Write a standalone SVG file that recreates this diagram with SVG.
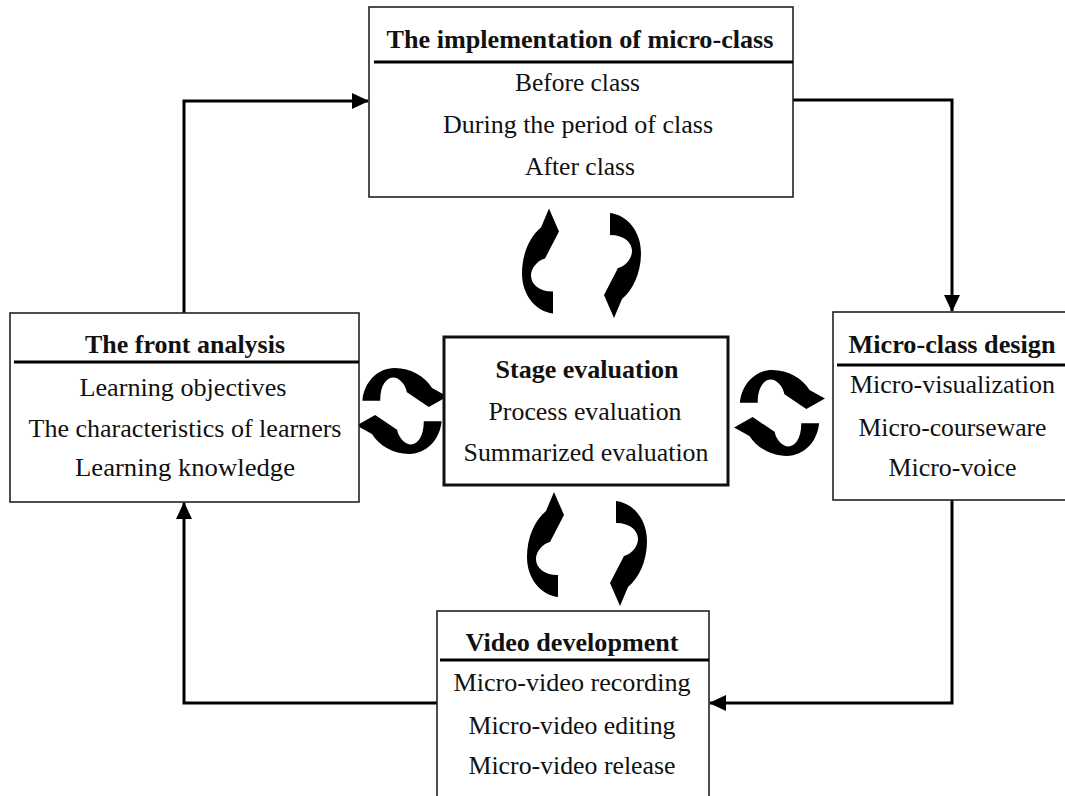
<svg xmlns="http://www.w3.org/2000/svg" width="1065" height="796" viewBox="0 0 1065 796">
  <defs>
    <style>
      .box { fill: #fff; stroke: #222; stroke-width: 1.6; }
      .cbox { fill: #fff; stroke: #111; stroke-width: 3; }
      .hdr { stroke: #000; stroke-width: 3; }
      .conn { fill: none; stroke: #000; stroke-width: 3; }
      .t { font-family: "Liberation Serif", "Times New Roman", serif; font-size: 26px; fill: #111; text-anchor: middle; }
      .b { font-weight: bold; }
      .curv { fill: #000; }
    </style>
    <marker id="ah" markerUnits="userSpaceOnUse" markerWidth="17" markerHeight="16" refX="16" refY="8" orient="auto">
      <path d="M0,0 L17,8 L0,16 Z" fill="#000"/>
    </marker>
    <path id="ca" d="M 9 -53 L 19 -30 L 5 -3 C -3 -1, -9 7, -9 14 C -9 22, -2 30, 13 30 L 13 52 C -4 50, -18 34, -18 12 C -18 -8, -10 -25, 1 -34 Z"/>
  </defs>

  <g id="connectors">
    <path class="conn" d="M 184 313 V 101 H 368" marker-end="url(#ah)"/>
    <path class="conn" d="M 793 100 H 952 V 311" marker-end="url(#ah)"/>
    <path class="conn" d="M 952 500 V 703 H 710" marker-end="url(#ah)"/>
    <path class="conn" d="M 437 703 H 184 V 503" marker-end="url(#ah)"/>
  </g>

  <g id="cycle-arrows" class="curv">
    <use href="#ca" transform="translate(540,261.5)"/>
    <use href="#ca" transform="translate(623,265) rotate(180)"/>
    <use href="#ca" transform="translate(545,545)"/>
    <use href="#ca" transform="translate(629,553) rotate(180)"/>
    <use href="#ca" transform="translate(404.5,387) rotate(90) scale(1.05,0.81)"/>
    <use href="#ca" transform="translate(399.5,435) rotate(-90) scale(1.05,0.81)"/>
    <use href="#ca" transform="translate(782,389) rotate(90) scale(1.05,0.81)"/>
    <use href="#ca" transform="translate(777,437) rotate(-90) scale(1.05,0.81)"/>
  </g>

  <g id="implementation">
    <rect class="box" x="369" y="7" width="424" height="190"/>
    <line class="hdr" x1="374" y1="62" x2="793" y2="62"/>
    <text class="t b" x="580" y="48" textLength="387" lengthAdjust="spacingAndGlyphs">The implementation of micro-class</text>
    <text class="t" x="577.5" y="91" textLength="125" lengthAdjust="spacingAndGlyphs">Before class</text>
    <text class="t" x="578" y="133" textLength="270" lengthAdjust="spacingAndGlyphs">During the period of class</text>
    <text class="t" x="580" y="175" textLength="110" lengthAdjust="spacingAndGlyphs">After class</text>
  </g>

  <g id="front-analysis">
    <rect class="box" x="10" y="313" width="349" height="189"/>
    <line class="hdr" x1="14" y1="362" x2="359" y2="362"/>
    <text class="t b" x="185" y="353" textLength="200" lengthAdjust="spacingAndGlyphs">The front analysis</text>
    <text class="t" x="183" y="396" textLength="207" lengthAdjust="spacingAndGlyphs">Learning objectives</text>
    <text class="t" x="185" y="437" textLength="313" lengthAdjust="spacingAndGlyphs">The characteristics of learners</text>
    <text class="t" x="185" y="476" textLength="220" lengthAdjust="spacingAndGlyphs">Learning knowledge</text>
  </g>

  <g id="micro-class-design">
    <rect class="box" x="833" y="312" width="240" height="188"/>
    <line class="hdr" x1="837" y1="365" x2="1065" y2="365"/>
    <text class="t b" x="952" y="353" textLength="207" lengthAdjust="spacingAndGlyphs">Micro-class design</text>
    <text class="t" x="952.5" y="393" textLength="205" lengthAdjust="spacingAndGlyphs">Micro-visualization</text>
    <text class="t" x="952.5" y="436" textLength="188" lengthAdjust="spacingAndGlyphs">Micro-courseware</text>
    <text class="t" x="952.5" y="476" textLength="128" lengthAdjust="spacingAndGlyphs">Micro-voice</text>
  </g>

  <g id="video-development">
    <rect class="box" x="437" y="611" width="272" height="200"/>
    <line class="hdr" x1="440" y1="660" x2="709" y2="660"/>
    <text class="t b" x="572" y="651" textLength="213" lengthAdjust="spacingAndGlyphs">Video development</text>
    <text class="t" x="572" y="691" textLength="237" lengthAdjust="spacingAndGlyphs">Micro-video recording</text>
    <text class="t" x="572" y="734" textLength="207" lengthAdjust="spacingAndGlyphs">Micro-video editing</text>
    <text class="t" x="572" y="774" textLength="207" lengthAdjust="spacingAndGlyphs">Micro-video release</text>
  </g>

  <g id="stage-evaluation">
    <rect class="cbox" x="444" y="337" width="284" height="148"/>
    <text class="t b" x="587" y="378" textLength="183" lengthAdjust="spacingAndGlyphs">Stage evaluation</text>
    <text class="t" x="585" y="420" textLength="193" lengthAdjust="spacingAndGlyphs">Process evaluation</text>
    <text class="t" x="586" y="461" textLength="245" lengthAdjust="spacingAndGlyphs">Summarized evaluation</text>
  </g>
</svg>
